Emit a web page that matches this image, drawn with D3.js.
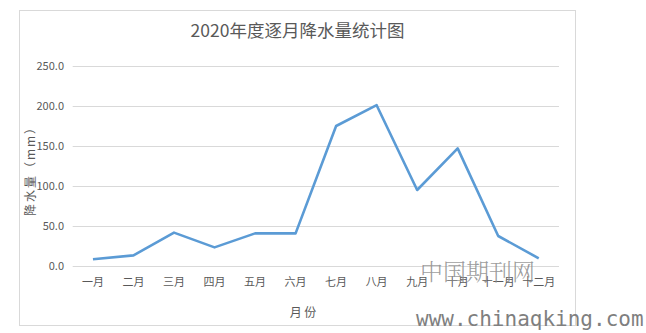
<!DOCTYPE html>
<html>
<head>
<meta charset="utf-8">
<script src="https://cdn.jsdelivr.net/npm/d3@7"></script>
<style>
  body { margin: 0; background: #fff; }
  text { font-family: "Noto Sans CJK SC", "Liberation Sans", sans-serif; }
</style>
</head>
<body>
<div id="chart"></div>
<script>
const months = ['一月', '二月', '三月', '四月', '五月', '六月', '七月', '八月', '九月', '十月', '十一月', '十二月'];
const rainfall = [8.4, 13.3, 41.7, 23.3, 40.8, 40.8, 175, 201, 95, 147, 37.5, 9.6];
const yTicks = [0, 50, 100, 150, 200, 250];

const width = 646;
const height = 333;

const svg = d3.select('#chart')
  .append('svg')
  .attr('width', width)
  .attr('height', height);

// chart frame
svg.append('rect')
  .attr('x', 19.5)
  .attr('y', 10.5)
  .attr('width', 556)
  .attr('height', 315)
  .attr('fill', '#fff')
  .attr('stroke', '#d9d9d9');

const x = d3.scalePoint()
  .domain(months)
  .range([72.7, 559])
  .padding(0.5);

const y = d3.scaleLinear()
  .domain([0, 250])
  .range([266, 66]);

// gridlines
svg.append('g')
  .selectAll('line')
  .data(yTicks)
  .join('line')
  .attr('x1', 72.7)
  .attr('x2', 559)
  .attr('y1', (d) => Math.round(y(d)) + 0.5)
  .attr('y2', (d) => Math.round(y(d)) + 0.5)
  .attr('stroke', '#d9d9d9');

// y axis labels
svg.append('g')
  .selectAll('text')
  .data(yTicks)
  .join('text')
  .attr('x', 64)
  .attr('y', (d) => y(d))
  .attr('dy', '0.35em')
  .attr('text-anchor', 'end')
  .attr('font-size', 11)
  .attr('fill', '#595959')
  .text((d) => d3.format('.1f')(d));

// x axis labels
svg.append('g')
  .selectAll('text')
  .data(months)
  .join('text')
  .attr('x', (d) => x(d))
  .attr('y', 282)
  .attr('dy', '0.35em')
  .attr('text-anchor', 'middle')
  .attr('font-size', 11)
  .attr('fill', '#595959')
  .text((d) => d);

// line
const line = d3.line()
  .x((d, i) => x(months[i]))
  .y((d) => y(d));

svg.append('path')
  .datum(rainfall)
  .attr('d', line)
  .attr('fill', 'none')
  .attr('stroke', '#5b9bd5')
  .attr('stroke-width', 2.6)
  .attr('stroke-linejoin', 'round');

// title
svg.append('text')
  .attr('x', 297.5)
  .attr('y', 31)
  .attr('dy', '0.35em')
  .attr('text-anchor', 'middle')
  .attr('font-size', 17.5)
  .attr('fill', '#595959')
  .text('2020年度逐月降水量统计图');

// axis titles
svg.append('text')
  .attr('transform', 'translate(31,168) rotate(-90)')
  .attr('dy', '0.35em')
  .attr('text-anchor', 'middle')
  .attr('font-size', 12)
  .attr('letter-spacing', 2)
  .attr('fill', '#595959')
  .text('降水量（mm）');

svg.append('text')
  .attr('x', 303)
  .attr('y', 313)
  .attr('dy', '0.35em')
  .attr('text-anchor', 'middle')
  .attr('font-size', 12)
  .attr('fill', '#595959')
  .text('月 份');

// watermark
svg.append('text')
  .attr('x', 420)
  .attr('y', 272)
  .attr('dy', '0.35em')
  .attr('font-size', 23)
  .attr('fill', '#8a8a8a')
  .attr('fill-opacity', 0.85)
  .style('font-family', '"Noto Serif CJK SC", "Noto Sans CJK SC", serif')
  .style('font-weight', 300)
  .text('中国期刊网');

svg.append('text')
  .attr('x', 416)
  .attr('y', 326)
  .attr('font-size', 21)
  .attr('fill', '#7f7f7f')
  .style('font-family', '"DejaVu Sans Mono", "Liberation Mono", monospace')
  .text('www.chinaqking.com');
</script>
</body>
</html>
